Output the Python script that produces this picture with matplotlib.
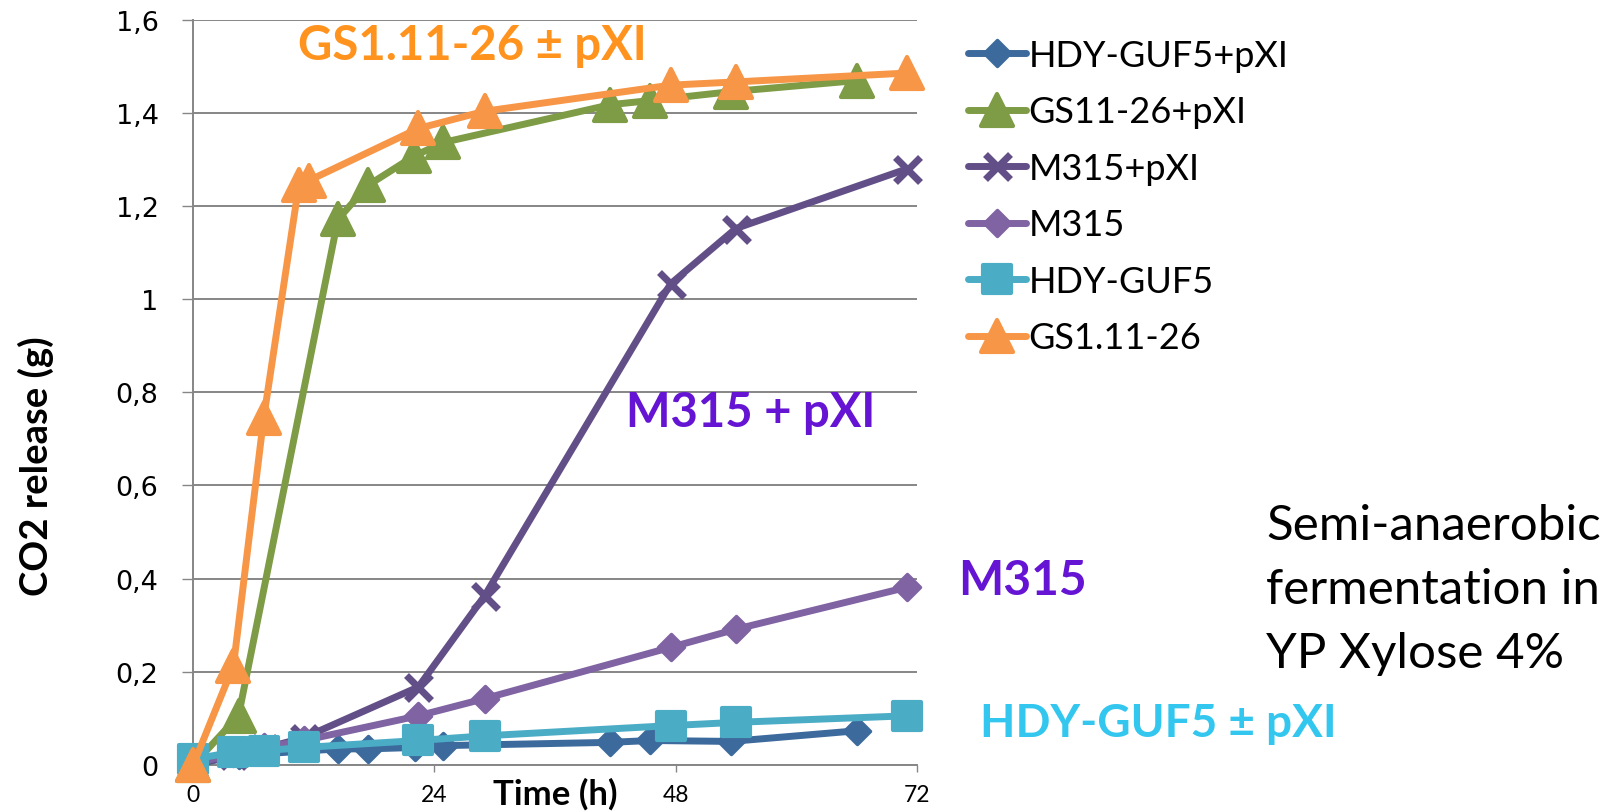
import numpy as np
import matplotlib
matplotlib.use('Agg')
import matplotlib.pyplot as plt
from matplotlib.markers import MarkerStyle

# ---------------- data ----------------
hdy_pxi_t = [0, 4.5, 14.4, 17.4, 22.1, 24.9, 41.5, 45.5, 53.5, 66.1]
hdy_pxi_co2 = [0.0, 0.02, 0.034, 0.034, 0.037, 0.041, 0.048, 0.052, 0.050, 0.073]

gs11_pxi_t = [0, 4.5, 14.4, 17.4, 22.0, 24.9, 41.5, 45.5, 53.5, 66.1]
gs11_pxi_co2 = [0.0, 0.105, 1.172, 1.245, 1.308, 1.337, 1.418, 1.427, 1.446, 1.470]

m315_pxi_t = [0, 4, 7, 11, 22.4, 29, 47.5, 54, 71]
m315_pxi_co2 = [0.0, 0.02, 0.035, 0.058, 0.167, 0.363, 1.033, 1.152, 1.280]

m315_t = [0, 4, 7, 11, 22.4, 29, 47.5, 54, 71]
m315_co2 = [0.0, 0.025, 0.037, 0.052, 0.105, 0.142, 0.252, 0.291, 0.381]

hdy_t = [0, 4, 7, 11, 22.4, 29, 47.5, 54, 71]
hdy_co2 = [0.012, 0.027, 0.030, 0.037, 0.052, 0.062, 0.084, 0.091, 0.105]

gs1_t = [0, 4, 7, 10.5, 11.5, 22.4, 29, 47.5, 54, 71]
gs1_co2 = [0.0, 0.213, 0.744, 1.245, 1.255, 1.367, 1.404, 1.460, 1.467, 1.486]

series_labels = ['HDY-GUF5+pXI', 'GS11-26+pXI', 'M315+pXI', 'M315', 'HDY-GUF5', 'GS1.11-26']
x_ticks = [0, 24, 48, 72]
y_ticks = [0, 0.2, 0.4, 0.6, 0.8, 1.0, 1.2, 1.4, 1.6]
y_tick_labels = ['0', '0,2', '0,4', '0,6', '0,8', '1', '1,2', '1,4', '1,6']

# ---------------- figure ----------------
W, H = 1615, 812
fig = plt.figure(figsize=(W / 100, H / 100), dpi=100)
fig.patch.set_facecolor('white')

def fx(x):
    return x / W

def fy(y):
    return 1 - y / H

ax_l, ax_r, ax_t, ax_b = 193.3, 916.7, 21.0, 765.7
ax = fig.add_axes([fx(ax_l), fy(ax_b), (ax_r - ax_l) / W, (ax_b - ax_t) / H])

grid_c = '#868686'
ax.set_xlim(0, 72)
ax.set_ylim(0, 1.6)
ax.set_xticks(x_ticks)
ax.set_xticklabels([str(t) for t in x_ticks], family='Lato', fontsize=16.5)
ax.set_yticks(y_ticks)
ax.set_yticklabels(y_tick_labels, family='DejaVu Sans', fontsize=19.5)
ax.yaxis.grid(True, color=grid_c, lw=1.4)
ax.set_axisbelow(True)
for s in ['top', 'right']:
    ax.spines[s].set_visible(False)
for s in ['left', 'bottom']:
    ax.spines[s].set_color(grid_c)
    ax.spines[s].set_linewidth(1.4)
ax.tick_params(axis='y', length=8, width=1.0, color=grid_c, pad=17)
ax.tick_params(axis='x', length=5, width=1.0, color=grid_c, pad=9)

styles = [
    dict(color='#3D6A9C', marker='D', ms=13, mew=2.5),
    dict(color='#7E9B45', marker='^', ms=23, mew=3),
    dict(color='#634F87', marker='x', ms=18, mew=5),
    dict(color='#8063A2', marker='D', ms=13, mew=2.5),
    dict(color='#4BACC6', marker='s', ms=20, mew=3),
    dict(color='#F79646', marker='^', ms=23, mew=3),
]
data = [(hdy_pxi_t, hdy_pxi_co2), (gs11_pxi_t, gs11_pxi_co2), (m315_pxi_t, m315_pxi_co2),
        (m315_t, m315_co2), (hdy_t, hdy_co2), (gs1_t, gs1_co2)]

handles = []
for i, ((t, v), st, lab) in enumerate(zip(data, styles, series_labels)):
    mk = MarkerStyle(st['marker'], joinstyle='round', capstyle='butt')
    ln, = ax.plot(t, v, color=st['color'], lw=5, marker=mk, ms=st['ms'],
                  mew=st['mew'], mec=st['color'], mfc=st['color'],
                  solid_joinstyle='round', solid_capstyle='round',
                  label=lab, zorder=3 + i, clip_on=False)
    handles.append(ln)

leg = ax.legend(handles=handles, labels=series_labels, loc='upper left',
                bbox_to_anchor=(fx(968), fy(40)), bbox_transform=fig.transFigure,
                frameon=False, prop=dict(family='Lato', size=26),
                handlelength=1.6, handletextpad=0.08, labelspacing=0.65,
                borderaxespad=0, borderpad=0)

# axis labels
fig.text(fx(36), fy(466), 'CO2 release (g)', rotation=90, ha='center', va='center',
         family='Lato', fontweight='bold', fontsize=27.5)
fig.text(fx(555), fy(805), 'Time (h)', ha='center', va='baseline',
         family='Lato', fontweight='bold', fontsize=25)

# annotations
fig.text(fx(298), fy(60), 'GS1.11-26 ± pXI', ha='left', va='baseline',
         family='Lato', fontweight='bold', fontsize=34, color='#FF931E')
fig.text(fx(626), fy(427), 'M315 + pXI', ha='left', va='baseline',
         family='Lato', fontweight='bold', fontsize=34, color='#6414D2')
fig.text(fx(958), fy(595), 'M315', ha='left', va='baseline',
         family='Lato', fontweight='bold', fontsize=34.5, color='#6414D2')
fig.text(fx(980), fy(737), 'HDY-GUF5 ± pXI', ha='left', va='baseline',
         family='Lato', fontweight='bold', fontsize=33, color='#33C6EF')

note_lines = ['Semi-anaerobic', 'fermentation in', 'YP Xylose 4%']
for k, line in enumerate(note_lines):
    fig.text(fx(1266), fy(540 + 64 * k), line, ha='left', va='baseline',
             family='Lato', fontsize=35.5, color='black')

fig.savefig('out.png', dpi=100, facecolor='white')
